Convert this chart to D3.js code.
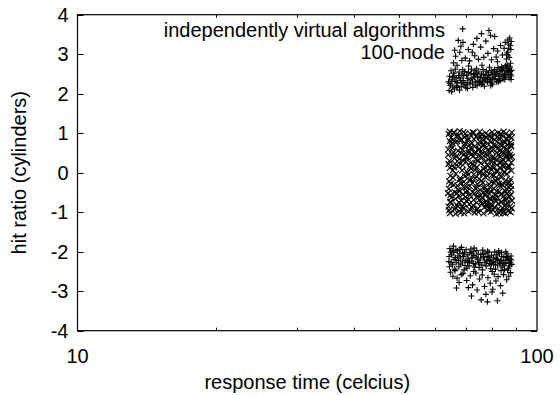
<!DOCTYPE html>
<html>
<head>
<meta charset="utf-8">
<script src="https://cdn.jsdelivr.net/npm/d3@7"></script>
<style>
  body { margin: 0; background: #fff; }
  svg { display: block; font-family: "Liberation Sans", Arial, sans-serif; }
</style>
</head>
<body>
<div id="chart"></div>
<script>
// "+" points, upper cluster (response time, hit ratio)
const plusTop = [
  [64.8,2.21],[65.3,2.35],[66.1,2.12],[64.5,2.44],[67.2,2.28],[65.9,2.52],[68.4,2.18],[66.7,2.40],[69.1,2.33],[67.8,2.09],
  [70.3,2.47],[68.9,2.61],[71.5,2.25],[70.0,2.15],[72.2,2.38],[69.6,2.56],[73.4,2.30],[71.0,2.70],[74.1,2.20],[72.8,2.49],
  [75.3,2.41],[73.9,2.63],[76.0,2.27],[74.7,2.55],[77.2,2.35],[75.9,2.72],[78.4,2.46],[76.8,2.19],[79.5,2.58],[77.9,2.31],
  [80.2,2.40],[78.8,2.67],[81.4,2.52],[80.0,2.24],[82.3,2.66],[81.0,2.37],[83.5,2.48],[82.0,2.81],[84.2,2.59],[83.1,2.33],
  [85.4,2.71],[84.6,2.44],[86.3,2.55],[85.8,2.88],[87.1,2.63],[86.9,2.40],[87.6,2.77],[64.2,2.30],[65.6,2.17],[66.4,2.62],
  [67.5,2.46],[68.1,2.34],[69.4,2.24],[70.7,2.39],[71.8,2.51],[72.5,2.16],[73.1,2.42],[74.4,2.34],[75.6,2.23],[76.5,2.48],
  [77.6,2.57],[78.1,2.29],[79.0,2.37],[79.9,2.49],[80.8,2.61],[81.7,2.30],[82.6,2.45],[83.8,2.68],[84.9,2.50],[85.1,2.36],
  [86.0,2.64],[86.6,2.49],[87.4,2.56],[87.9,2.45],[65.0,2.58],[66.9,2.20],[68.7,2.50],[70.5,2.29],[72.0,2.62],[73.7,2.52],
  [75.0,2.31],[76.3,2.61],[78.0,2.41],[79.7,2.27],[81.2,2.44],[83.0,2.57],[84.4,2.38],[85.6,2.58],[87.3,2.68],[64.4,2.08],
  [64.7,2.26],[65.5,2.41],[66.3,2.31],[67.0,2.16],[67.7,2.55],[68.6,2.27],[69.3,2.46],[70.1,2.22],[70.9,2.54],[71.6,2.35],
  [72.4,2.27],[73.3,2.58],[74.2,2.44],[74.9,2.28],[75.8,2.50],[76.7,2.38],[77.4,2.46],[78.3,2.53],[79.1,2.35],[80.1,2.55],
  [81.0,2.48],[81.9,2.56],[82.8,2.38],[83.6,2.62],[84.5,2.65],[85.2,2.47],[86.1,2.73],[86.8,2.60],[87.5,2.49],[88.0,2.59],
  [65.2,2.05],[66.0,2.45],[68.0,2.40],[70.6,2.13],[73.5,2.22],[76.2,2.32],[79.3,2.20],[82.4,2.30],[85.0,2.42],[87.8,2.36],
  [65.8,2.78],[66.5,2.95],[67.0,2.72],[67.9,3.05],[68.6,2.84],[69.8,2.90],[70.9,3.12],[71.3,2.83],[72.7,3.25],[73.2,2.96],
  [74.0,3.40],[74.6,2.87],[75.4,3.18],[75.7,3.52],[76.6,2.92],[77.4,3.33],[78.2,3.02],[79.2,3.48],[79.6,2.86],[80.5,3.14],
  [81.5,2.93],[82.1,3.08],[83.3,3.22],[84.1,2.98],[84.8,3.15],[85.3,3.30],[86.2,3.05],[86.7,3.26],[87.2,3.41],[87.7,3.12],
  [85.9,3.00],[86.4,3.36],[67.4,3.35],[68.9,3.64],[68.3,3.20],[78.6,3.60],[80.9,3.45],[66.2,3.10],[69.0,3.30],[72.3,3.05],
  [87.0,2.92],[87.5,3.22],[86.5,2.98],[87.9,3.32],[86.8,3.15]
];

// "+" points, lower cluster
const plusBottom = [
  [64.6,-1.92],[65.2,-2.08],[64.3,-2.25],[65.8,-1.86],[66.4,-2.15],[65.5,-2.33],[67.1,-1.98],[66.7,-2.28],[67.9,-2.05],[68.5,-1.89],
  [67.6,-2.38],[69.2,-2.12],[68.8,-2.26],[70.1,-1.95],[69.7,-2.35],[70.8,-2.18],[71.4,-2.02],[70.4,-2.42],[72.1,-2.24],[71.8,-1.93],
  [72.9,-2.10],[73.5,-2.31],[72.6,-2.00],[74.2,-2.19],[73.9,-1.97],[74.8,-2.40],[75.5,-2.07],[75.1,-2.27],[76.2,-1.96],[76.8,-2.21],
  [77.5,-2.36],[77.1,-2.04],[78.3,-2.14],[78.9,-2.30],[78.0,-1.99],[79.6,-2.09],[80.2,-2.25],[79.3,-2.43],[80.9,-2.01],[81.5,-2.17],
  [82.1,-2.34],[81.2,-2.44],[82.8,-2.06],[83.4,-2.22],[84.0,-2.39],[83.7,-2.02],[84.7,-2.13],[85.3,-2.29],[85.0,-2.45],[86.0,-2.05],
  [86.6,-2.20],[87.2,-2.36],[86.3,-2.47],[87.8,-2.11],[87.5,-2.28],[64.9,-2.01],[66.0,-2.20],[67.3,-2.11],[68.2,-2.31],[69.5,-2.02],
  [70.6,-2.27],[71.1,-2.36],[72.3,-2.15],[73.2,-2.39],[74.5,-2.06],[75.8,-2.34],[76.5,-2.13],[77.8,-2.24],[79.0,-2.19],[80.5,-2.33],
  [81.8,-2.08],[83.1,-2.30],[84.4,-2.27],[85.7,-2.14],[86.9,-2.29],[88.0,-2.21],[65.4,-1.97],[68.0,-1.94],[73.0,-1.91],[78.6,-2.01],
  [82.5,-1.98],[85.5,-2.00],
  [64.4,-2.12],[65.0,-2.28],[65.9,-2.02],[66.6,-1.95],[67.4,-2.22],[68.1,-2.16],[68.9,-2.04],[69.8,-2.22],[70.5,-2.08],[71.3,-2.25],
  [72.0,-2.05],[72.7,-2.30],[73.7,-2.14],[74.6,-2.28],[75.4,-2.16],[76.3,-2.06],[77.0,-2.28],[77.9,-2.12],[78.7,-2.22],[79.5,-2.32],
  [80.4,-2.14],[81.1,-2.28],[82.0,-2.20],[82.9,-2.26],[83.8,-2.12],[84.8,-2.34],[85.6,-2.22],[86.4,-2.12],[87.3,-2.18],[88.1,-2.32],
  [64.5,-2.38],[66.2,-2.44],[69.4,-2.46],[72.8,-2.50],[76.1,-2.46],[79.9,-2.50],[83.5,-2.48],[86.7,-2.42],
  [64.8,-2.52],[65.6,-2.62],[66.3,-2.48],[67.0,-2.67],[68.4,-2.58],[67.7,-2.78],[69.0,-2.55],[66.8,-2.92],[70.3,-2.73],[71.6,-2.61],
  [72.4,-2.84],[73.6,-2.54],[74.1,-2.97],[75.0,-2.69],[76.0,-2.59],[76.9,-2.88],[77.4,-3.08],[78.2,-2.66],[79.1,-2.80],[79.8,-3.02],
  [80.7,-2.57],[81.4,-2.74],[82.3,-2.63],[83.3,-2.86],[84.6,-2.58],[85.9,-2.71],[86.8,-2.62],[87.6,-2.53],[75.6,-3.22],[78.0,-3.27],
  [82.0,-3.24],[70.9,-2.91],[84.2,-3.05],[80.1,-2.95],[72.0,-3.12]
];

// "x" points, middle cluster
const crossMid = [
  [64.3,0.98],[64.9,0.71],[64.1,0.45],[64.6,0.12],[64.4,-0.22],[64.8,-0.57],[64.2,-0.86],[64.7,-1.02],[65.0,0.88],[64.5,0.30],
  [64.3,-0.41],[64.9,-0.74],[64.6,1.04],[64.1,0.59],[64.8,-0.08],
  [66.0,1.01],[66.5,0.77],[65.8,0.52],[66.3,0.23],[66.6,-0.03],[65.9,-0.31],[66.4,-0.66],[66.1,-0.93],[66.7,0.41],[65.7,0.84],
  [66.2,-0.49],[66.8,-0.81],[65.6,0.06],[66.5,-1.04],
  [67.6,0.94],[68.2,0.62],[67.8,0.35],[68.0,-0.14],[67.5,-0.44],[68.3,-0.70],[67.7,-0.97],[68.1,0.81],[67.4,0.16],[68.4,-0.27],
  [67.9,1.05],[67.3,-0.85],[68.5,0.49],[67.6,-0.59],
  [69.2,1.03],[69.8,0.73],[69.4,0.47],[69.0,0.19],[69.7,-0.09],[69.3,-0.37],[69.9,-0.62],[69.1,-0.90],[69.6,0.90],[70.1,0.28],
  [69.5,-0.79],[68.9,0.58],[70.0,-0.50],[69.4,-1.03],
  [70.8,0.87],[71.5,0.99],[71.1,0.55],[71.7,0.25],[70.9,-0.05],[71.4,-0.34],[71.0,-0.68],[71.6,-0.95],[71.3,0.70],[70.7,0.38],
  [71.8,-0.18],[71.2,-0.80],[70.6,-0.46],[71.9,0.10],
  [72.5,1.02],[73.1,0.66],[72.7,0.42],[73.3,0.07],[72.4,-0.26],[73.0,-0.53],[72.6,-0.83],[73.2,-1.01],[72.9,0.85],[72.3,0.21],
  [73.4,-0.39],[72.8,-0.69],[73.5,0.53],
  [74.1,0.93],[74.8,0.60],[74.3,0.31],[74.9,-0.02],[74.2,-0.29],[74.7,-0.61],[74.4,-0.91],[75.0,0.79],[74.0,0.14],[74.6,-0.47],
  [75.1,1.04],[74.5,-1.00],[73.9,-0.76],[74.8,0.44],
  [75.8,0.96],[76.4,0.68],[76.0,0.39],[76.6,0.09],[75.7,-0.20],[76.3,-0.51],[75.9,-0.78],[76.5,-1.03],[76.2,0.82],[75.6,0.55],
  [76.7,-0.35],[76.1,-0.64],[75.5,0.24],[76.8,-0.88],
  [77.4,1.00],[78.1,0.74],[77.6,0.48],[78.2,0.17],[77.3,-0.12],[77.9,-0.43],[77.5,-0.72],[78.3,-0.96],[77.7,0.89],[78.4,0.33],
  [77.2,-0.58],[78.0,-0.84],[77.8,0.02],
  [79.0,0.91],[79.7,0.63],[79.2,0.29],[79.8,-0.06],[79.1,-0.38],[79.6,-0.67],[79.3,-0.99],[79.9,1.03],[78.9,0.50],[79.5,-0.23],
  [80.0,-0.82],[79.4,0.78],[78.8,-0.54],[80.1,0.15],
  [80.7,0.97],[81.4,0.69],[80.9,0.37],[81.5,0.04],[80.6,-0.25],[81.2,-0.55],[80.8,-0.87],[81.6,-1.04],[81.0,0.83],[81.7,0.51],
  [80.5,-0.40],[81.3,-0.71],[81.8,0.20],
  [82.3,1.01],[83.0,0.72],[82.5,0.46],[83.1,0.13],[82.2,-0.17],[82.8,-0.48],[82.4,-0.79],[83.2,-0.98],[82.6,0.87],[83.3,0.27],
  [82.1,-0.63],[82.9,-0.33],[83.4,0.58],[82.7,-1.02],
  [84.0,0.95],[84.7,0.64],[84.2,0.34],[84.8,0.01],[83.9,-0.30],[84.5,-0.60],[84.1,-0.89],[84.9,0.80],[84.3,0.18],[85.0,-0.45],
  [84.6,1.04],[83.8,-0.74],[84.4,-1.01],[85.1,0.47],
  [85.6,0.99],[86.3,0.70],[85.8,0.43],[86.4,0.11],[85.5,-0.19],[86.1,-0.52],[85.7,-0.81],[86.5,-0.97],[86.0,0.86],[85.4,0.26],
  [86.6,-0.36],[85.9,-0.66],[86.2,0.57],[85.3,-1.03],
  [87.2,0.92],[87.9,0.66],[87.4,0.38],[88.0,0.05],[87.1,-0.24],[87.7,-0.56],[87.3,-0.85],[88.1,1.02],[87.5,0.76],[87.0,0.16],
  [87.8,-0.42],[88.2,-0.71],[87.6,-1.00],[86.9,0.52],
  [65.4,0.63],[70.2,-0.71],[77.0,0.28],[83.6,-0.12],[67.1,-0.33],[73.7,0.91],[80.3,-0.94],[86.8,0.34],[64.4,-0.95],[71.9,0.46],
  [78.6,-0.29],[85.2,0.77],[68.7,0.06],[75.3,-0.58],[82.0,0.61],[87.5,-0.17],[66.2,0.36],[72.1,-0.87],[79.1,0.13],[84.9,-0.66],
  [69.6,0.67],[76.4,-0.02],[81.7,-0.47],[88.0,0.89],[64.9,-0.28],[73.0,0.18],[78.2,0.96],[85.7,-0.88],[67.8,-0.76],[74.8,0.71],
  [80.8,0.24],[86.3,-0.28],[65.9,1.02],[71.4,0.15],[77.7,-0.79],[83.0,0.41],[69.0,-0.55],[75.9,0.47],[82.4,-0.91],[87.9,0.25],
  [64.2,0.22],[70.6,0.81],[76.7,-0.41],[84.1,0.70],[67.3,0.55],[73.4,-0.14],[79.8,0.55],[86.0,-0.03],[68.2,-1.01],[74.2,-0.37],
  [81.1,-0.19],[87.1,-0.61],[65.1,-0.63],[72.5,-0.49],[78.9,-0.66],[84.6,0.14],[70.0,0.40],[76.0,0.86],[82.9,0.84],[66.8,0.92],
  [71.2,-0.19],[77.4,0.62],[83.7,-0.54],[88.1,-0.90],[69.3,-0.23],[75.0,0.02],[80.4,0.70],[85.9,0.60],[64.6,0.80],[72.8,1.01],
  [79.4,-0.47],[86.5,0.92],[67.6,0.25],[74.0,-0.93],[81.5,0.33],[87.3,0.45],[65.7,-0.13],[70.9,-0.98],[78.0,-0.08],[84.3,-0.32],
  [68.5,0.84],[75.6,-0.73],[82.2,0.05],[87.7,0.70],[66.5,-0.89],[73.6,0.33],[79.7,0.88],[85.4,-0.48],[69.8,0.99],[76.9,0.15],
  [83.3,0.98],[64.0,-0.52],[71.7,0.62],[77.9,0.44],[84.8,-0.98],[68.0,-0.46],[74.5,0.58],[81.0,-0.64],[86.6,0.18],[66.0,0.14],
  [72.2,0.75],[78.5,-0.90],[83.9,0.52],[70.4,0.02],[76.2,-0.26],[82.6,-0.28],[87.8,-0.33],[65.3,0.47],[73.8,-0.62],[80.0,0.38],
  [85.6,0.85],[67.9,-0.18],[75.2,0.93],[81.9,0.91],[88.2,0.40],[64.7,-0.75],[71.0,0.50],[77.2,-0.53],[84.0,0.28],[69.1,0.30],
  [74.9,-0.16],[80.6,-0.07],[86.2,-0.77],[66.9,-0.52],[72.9,-0.04],[79.2,-0.81],[85.0,0.02],[68.8,-0.84],[76.6,0.72],[83.5,-0.75],
  [70.3,-0.36],[65.5,0.74],[78.3,0.59],[82.8,-0.04],[87.0,-0.47],[73.2,0.49],[67.0,0.80],[79.6,0.07],[85.3,0.39],[71.5,-0.57]
];

const legendLabels = ['independently virtual algorithms', '100-node'];
const yTicks = [-4, -3, -2, -1, 0, 1, 2, 3, 4];
const xMajorTicks = [10, 100];
const xMinorTicks = [20, 30, 40, 50, 60, 70, 80, 90];

const width = 560, height = 395;
const margin = { left: 77.5, right: 23, top: 14.7, bottom: 64.3 };
const fontSize = 20;

const svg = d3.select('#chart').append('svg')
  .attr('width', width)
  .attr('height', height);

const x = d3.scaleLog()
  .domain([10, 100])
  .range([margin.left, width - margin.right]);
const y = d3.scaleLinear()
  .domain([-4, 4])
  .range([height - margin.bottom, margin.top]);

const x0 = x.range()[0], x1 = x.range()[1];
const y0 = y.range()[0], y1 = y.range()[1];

// tick marks drawn inward on all four sides, like gnuplot's mirror ticks
const ticks = svg.append('g').attr('stroke', '#000').attr('stroke-width', 1);
yTicks.forEach(t => {
  const yy = Math.round(y(t)) + 0.5;
  ticks.append('line').attr('x1', x0).attr('x2', x0 + 6).attr('y1', yy).attr('y2', yy);
  ticks.append('line').attr('x1', x1).attr('x2', x1 - 6).attr('y1', yy).attr('y2', yy);
});
xMinorTicks.forEach(t => {
  const xx = Math.round(x(t)) + 0.5;
  ticks.append('line').attr('x1', xx).attr('x2', xx).attr('y1', y0).attr('y2', y0 - 3);
  ticks.append('line').attr('x1', xx).attr('x2', xx).attr('y1', y1).attr('y2', y1 + 3);
});

// frame
svg.append('rect')
  .attr('x', x0).attr('y', y1)
  .attr('width', x1 - x0).attr('height', y0 - y1)
  .attr('fill', 'none').attr('stroke', '#000').attr('stroke-width', 1.2);

// tick labels
svg.append('g').selectAll('text')
  .data(yTicks)
  .join('text')
  .attr('x', x0 - 9)
  .attr('y', d => y(d))
  .attr('dy', '0.35em')
  .attr('text-anchor', 'end')
  .attr('font-size', fontSize)
  .text(d => d);

svg.append('g').selectAll('text')
  .data(xMajorTicks)
  .join('text')
  .attr('x', d => x(d))
  .attr('y', y0 + 25)
  .attr('dy', '0.35em')
  .attr('text-anchor', 'middle')
  .attr('font-size', fontSize)
  .text(d => d);

// axis titles
svg.append('text')
  .attr('x', (x0 + x1) / 2)
  .attr('y', 382)
  .attr('dy', '0.35em')
  .attr('text-anchor', 'middle')
  .attr('font-size', fontSize)
  .text('response time (celcius)');

svg.append('text')
  .attr('transform', `translate(19,${(y0 + y1) / 2}) rotate(-90)`)
  .attr('dy', '0.35em')
  .attr('text-anchor', 'middle')
  .attr('font-size', fontSize)
  .text('hit ratio (cylinders)');

// legend text
svg.append('g').selectAll('text')
  .data(legendLabels)
  .join('text')
  .attr('x', 445)
  .attr('y', (d, i) => 30 + i * 22)
  .attr('dy', '0.35em')
  .attr('text-anchor', 'end')
  .attr('font-size', fontSize)
  .text(d => d);

// points
const plusPath = 'M-3,0H3M0,-3V3';
const crossPath = 'M-3,-3L3,3M-3,3L3,-3';

const pts = svg.append('g').attr('fill', 'none').attr('stroke', '#000').attr('stroke-width', 1.1);

pts.selectAll('path.plus')
  .data(plusTop.concat(plusBottom))
  .join('path')
  .attr('class', 'plus')
  .attr('transform', d => `translate(${x(d[0])},${y(d[1])})`)
  .attr('d', plusPath);

pts.selectAll('path.cross')
  .data(crossMid)
  .join('path')
  .attr('class', 'cross')
  .attr('transform', d => `translate(${x(d[0])},${y(d[1])})`)
  .attr('d', crossPath);
</script>
</body>
</html>
